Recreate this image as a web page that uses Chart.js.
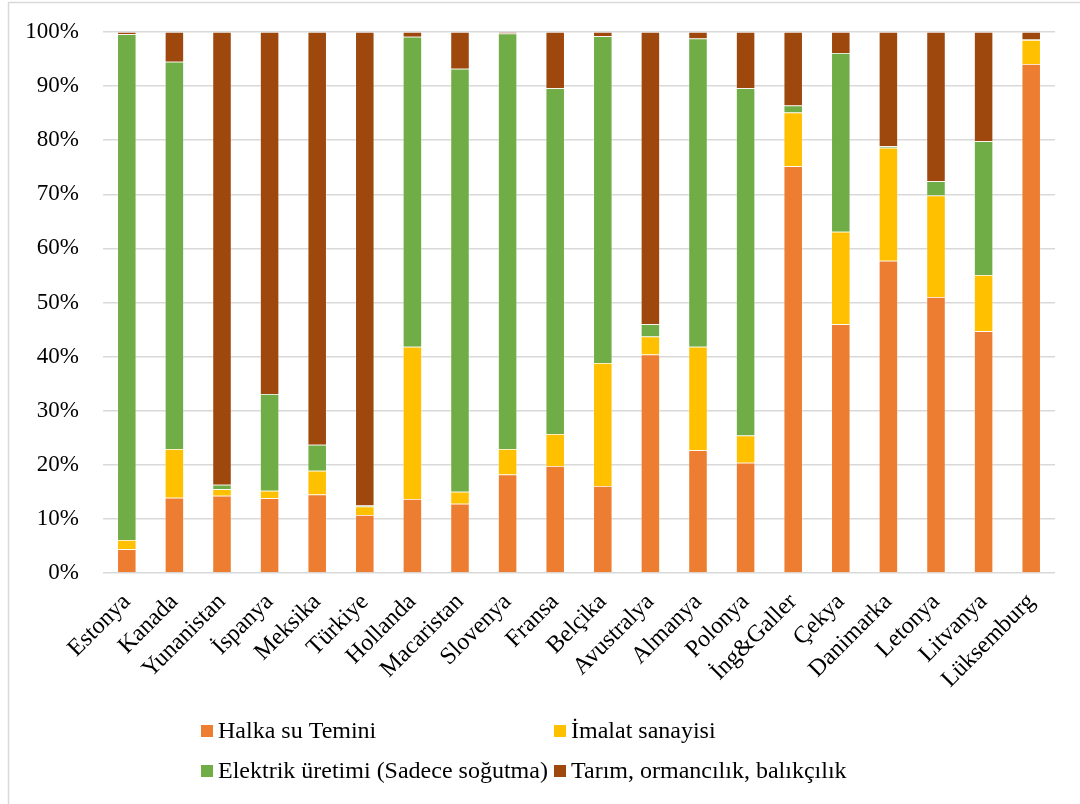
<!DOCTYPE html>
<html lang="tr">
<head>
<meta charset="utf-8">
<title>Su kullanımı dağılımı</title>
<script src="https://cdn.jsdelivr.net/npm/chart.js@4.4.1/dist/chart.umd.min.js"></script>
<style>
  html, body { margin: 0; padding: 0; background: #ffffff; }
  #wrap { position: relative; width: 1080px; height: 804px; }
  canvas { display: block; }
</style>
</head>
<body>
<div id="wrap"><canvas id="chart" width="1080" height="804"></canvas></div>
<script>
// Countries on the category axis
const countries = [
  "Estonya", "Kanada", "Yunanistan", "İspanya", "Meksika", "Türkiye",
  "Hollanda", "Macaristan", "Slovenya", "Fransa", "Belçika", "Avustralya",
  "Almanya", "Polonya", "İng&Galler", "Çekya", "Danimarka", "Letonya",
  "Litvanya", "Lüksemburg"
];

// Share of each use, percent of the country's total
const halkaSuTemini = [
  4.4, 13.9, 14.3, 13.8, 14.5, 10.7, 13.7, 12.8, 18.2, 19.8,
  16.1, 40.4, 22.7, 20.4, 75.2, 46.0, 57.7, 51.0, 44.7, 94.1
];
const imalatSanayisi = [
  1.7, 9.0, 1.2, 1.4, 4.4, 1.6, 28.1, 2.2, 4.7, 5.9,
  22.7, 3.3, 19.1, 5.0, 9.9, 17.1, 20.9, 18.8, 10.4, 4.4
];
const elektrikUretimi = [
  93.5, 71.6, 0.8, 17.9, 4.8, 0.2, 57.3, 78.2, 76.8, 63.9,
  60.4, 2.3, 57.0, 64.2, 1.3, 33.0, 0.3, 2.6, 24.7, 0.1
];
const tarimOrmancilik = [
  0.4, 5.5, 83.7, 66.9, 76.3, 87.5, 0.9, 6.8, 0.3, 10.4,
  0.8, 54.0, 1.2, 10.4, 13.6, 3.9, 21.1, 27.6, 20.2, 1.4
];

// Value axis tick labels
const yTicks = ["0%", "10%", "20%", "30%", "40%", "50%", "60%", "70%", "80%", "90%", "100%"];

// Series names
const seriesNames = [
  "Halka su Temini",
  "İmalat sanayisi",
  "Elektrik üretimi (Sadece soğutma)",
  "Tarım, ormancılık, balıkçılık"
];

const colors = ["#ED7D31", "#FFC000", "#70AD47", "#9E480E"];
const FONT = "'Liberation Serif', 'Times New Roman', serif";

// Frame lines around the figure
const framePlugin = {
  id: "frame",
  beforeDraw(chart) {
    const ctx = chart.ctx;
    ctx.save();
    ctx.fillStyle = "#ffffff";
    ctx.fillRect(0, 0, chart.width, chart.height);
    ctx.strokeStyle = "#d9d9d9";
    ctx.lineWidth = 1.5;
    ctx.beginPath();
    ctx.moveTo(8.5, chart.height);
    ctx.lineTo(8.5, 2.5);
    ctx.lineTo(chart.width, 2.5);
    ctx.stroke();
    ctx.restore();
  }
};

// Two-column legend under the plot
const gridLegend = {
  id: "gridLegend",
  afterDraw(chart) {
    const ctx = chart.ctx;
    const cols = [201, 554];
    const rows = [731, 771];
    ctx.save();
    ctx.font = "24px " + FONT;
    ctx.textBaseline = "middle";
    ctx.textAlign = "left";
    chart.data.datasets.forEach((ds, i) => {
      const x = cols[i % 2];
      const y = rows[Math.floor(i / 2)];
      ctx.fillStyle = ds.backgroundColor;
      ctx.fillRect(x, y - 6, 12, 12);
      ctx.fillStyle = "#000000";
      ctx.fillText(ds.label, x + 17, y + 1);
    });
    ctx.restore();
  }
};

const seriesData = [halkaSuTemini, imalatSanayisi, elektrikUretimi, tarimOrmancilik];

new Chart(document.getElementById("chart"), {
  type: "bar",
  data: {
    labels: countries,
    datasets: seriesData.map((values, i) => ({
      label: seriesNames[i],
      data: values,
      backgroundColor: colors[i],
      borderColor: "rgba(255,255,255,0.35)",
      borderWidth: 0.75,
      categoryPercentage: 1.0,
      barPercentage: 0.4
    }))
  },
  options: {
    responsive: false,
    animation: false,
    devicePixelRatio: 1,
    layout: { padding: { left: 0, right: 25, top: 32, bottom: 106 } },
    plugins: {
      legend: { display: false },
      tooltip: { enabled: false }
    },
    scales: {
      x: {
        stacked: true,
        grid: { display: false },
        border: { display: false },
        ticks: {
          autoSkip: false,
          maxRotation: 45,
          minRotation: 45,
          padding: 7,
          color: "#000000",
          font: { family: FONT, size: 24 }
        },
        afterFit(scale) {
          scale.height = 125;
          scale.paddingTop = 0;
          scale.paddingBottom = 0;
        }
      },
      y: {
        stacked: true,
        min: 0,
        max: 100,
        grid: { color: "#d9d9d9", lineWidth: 1.5, drawTicks: false },
        border: { display: false },
        ticks: {
          stepSize: 10,
          padding: 24,
          color: "#000000",
          font: { family: FONT, size: 23 },
          callback: (v) => yTicks[Math.round(v / 10)]
        },
        afterFit(scale) {
          scale.width = 103;
          scale.paddingTop = 0;
          scale.paddingBottom = 0;
        }
      }
    }
  },
  plugins: [framePlugin, gridLegend]
});
</script>
</body>
</html>
